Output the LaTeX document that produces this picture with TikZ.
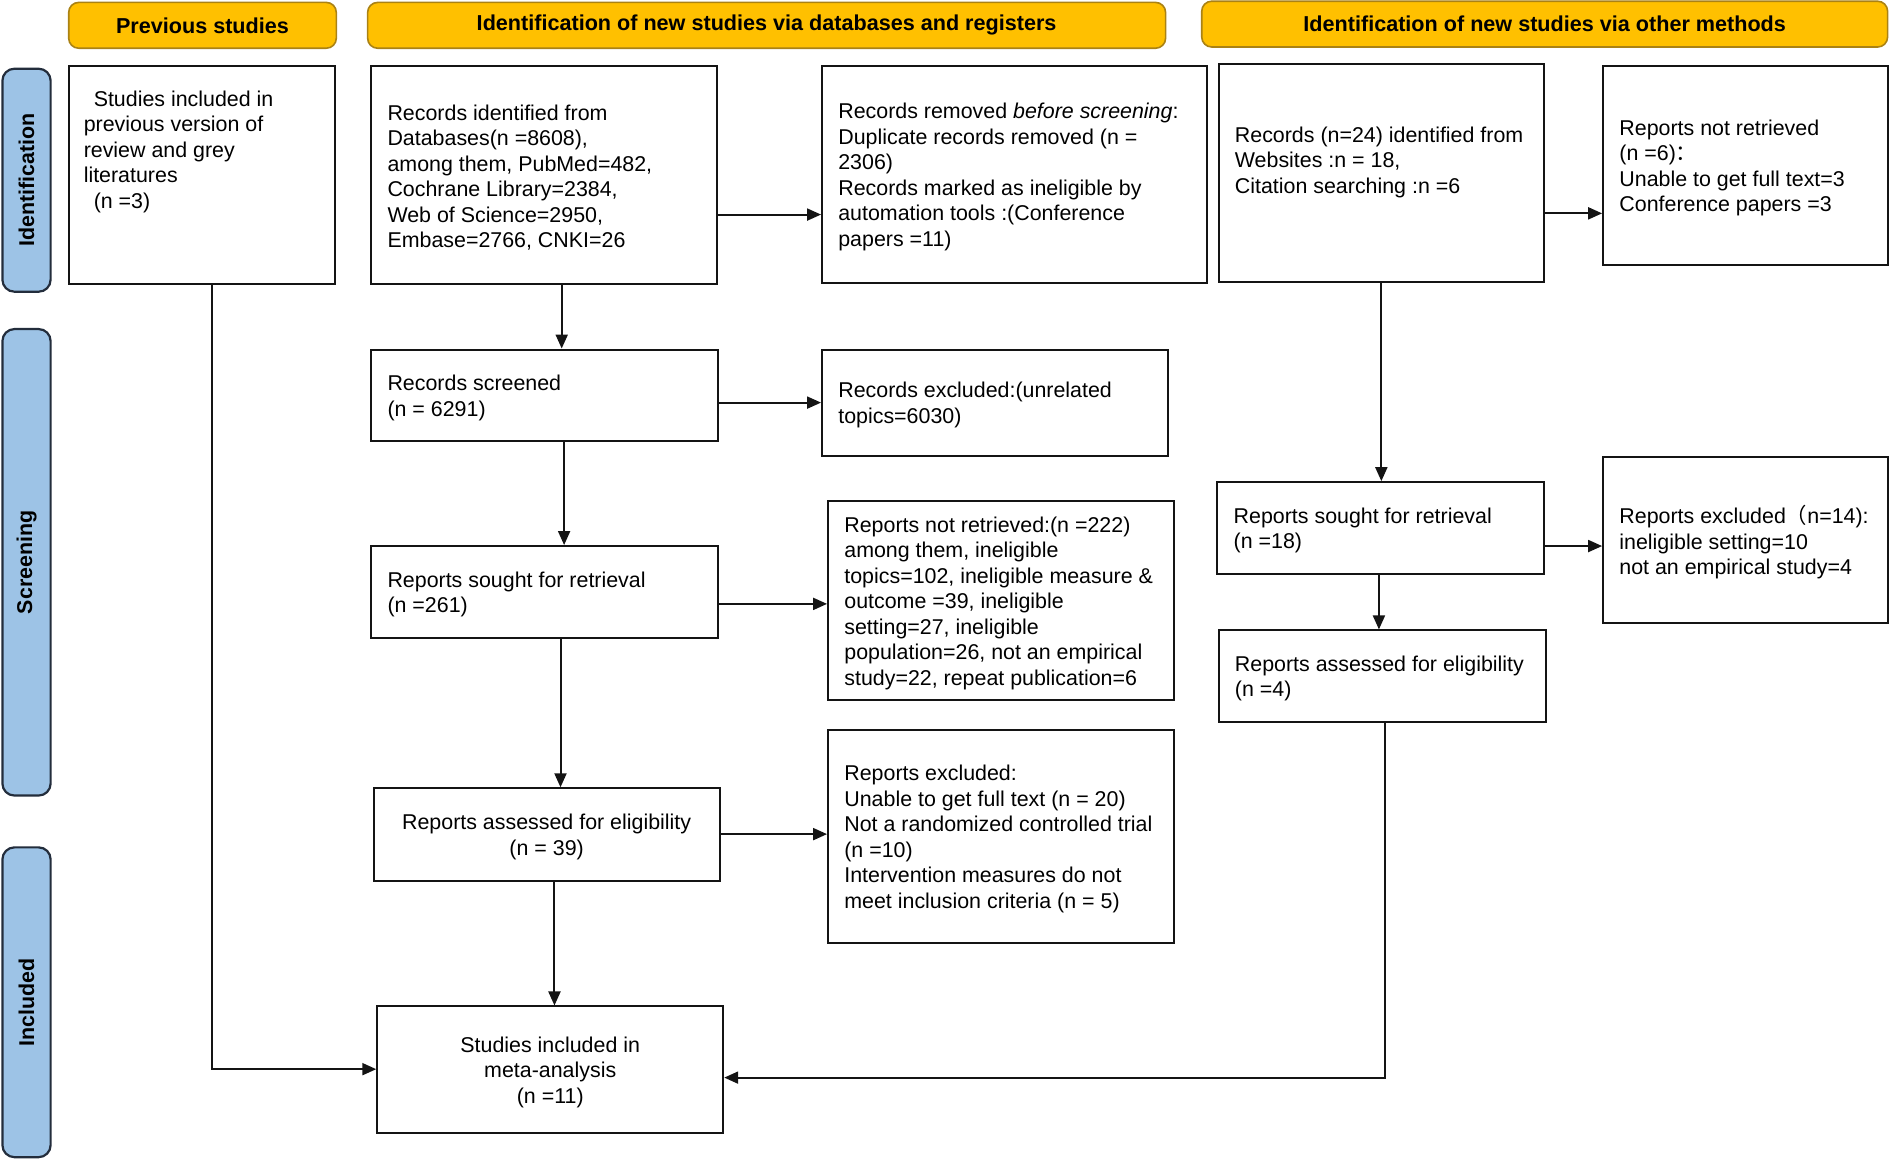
\documentclass[tikz,border=0pt]{standalone}
\usepackage{fontspec}
\setmainfont{Liberation Sans}
\newfontfamily\cjkf{Noto Sans CJK SC}
\usetikzlibrary{arrows.meta,calc}
\def\uu{0.6027pt}
\definecolor{hdrfill}{RGB}{255,192,0}
\definecolor{hdrdraw}{RGB}{170,130,20}
\definecolor{sidefill}{RGB}{157,195,230}
\definecolor{sidedraw}{RGB}{35,45,60}
\definecolor{boxdraw}{RGB}{20,20,20}
\tikzset{
  boxst/.style={draw=boxdraw, line width=1pt, rectangle, inner sep=0pt, fill=white},
  txt/.style={inner sep=0pt, align=left, font=\fontsize{10.7}{12.75}\selectfont},
  ctxt/.style={inner sep=0pt, align=center, font=\fontsize{10.7}{12.75}\selectfont},
  hdr/.style={draw=hdrdraw, line width=0.8pt, fill=hdrfill, rounded corners=5pt, inner sep=0pt, font=\bfseries\fontsize{10.8}{13}\selectfont},
  side/.style={draw=sidedraw, line width=1.1pt, fill=sidefill, rounded corners=6pt, inner sep=0pt, font=\bfseries\fontsize{10.7}{13}\selectfont},
  arr/.style={draw=boxdraw, line width=1pt, -{Triangle[length=7pt,width=6pt]}},
}
\newcommand\mkbox[5]{\node[boxst, minimum width=#4*\uu, minimum height=#5*\uu] (#1) at (#2,#3) {};}
\begin{document}
\begin{tikzpicture}[x=0.6027pt,y=-0.6027pt]
\useasboundingbox (0,0) rectangle (1568,962);
% headers
\node[hdr, minimum width=222*\uu, minimum height=38*\uu] (h1) at (168,21) {Previous studies};
\node[hdr, minimum width=662*\uu, minimum height=38*\uu] (h2) at (636,21) {Identification of new studies via databases and registers};
\node[hdr, minimum width=569*\uu, minimum height=38*\uu] (h3) at (1281.5,20) {Identification of new studies via other methods};
% side labels
\node[side, rotate=90, minimum width=185*\uu, minimum height=40*\uu] (s1) at (22,149.5) {Identification};
\node[side, rotate=90, minimum width=387*\uu, minimum height=40*\uu] (s2) at (22,466.5) {Screening};
\node[side, rotate=90, minimum width=257*\uu, minimum height=40*\uu] (s3) at (22,831.5) {Included};
% boxes
\mkbox{prev}{167.5}{145.5}{221}{181}
\mkbox{db}{451.5}{145.5}{287}{181}
\mkbox{removed}{841.5}{145}{319}{180}
\mkbox{other}{1146}{143.5}{270}{181}
\mkbox{notrettwo}{1448}{137.5}{236}{165}
\mkbox{screened}{452}{328}{288}{76}
\mkbox{exclone}{825.5}{334}{287}{88}
\mkbox{sought}{452}{491}{288}{76}
\mkbox{notret}{830.5}{498.5}{287}{165}
\mkbox{soughttwo}{1145.5}{438}{271}{76}
\mkbox{excltwo}{1448}{448}{236}{138}
\mkbox{assessedtwo}{1147}{561}{272}{76}
\mkbox{assessed}{453.5}{692.5}{287}{77}
\mkbox{exclthree}{830.5}{694}{287}{176}
\mkbox{included}{456.5}{887.5}{287}{105}
% texts
\node[txt, anchor=west] (tprev) at ([xshift=13*\uu, yshift=19.5*\uu]prev.west) {\hspace{5pt}Studies included in\\previous version of\\review and grey\\literatures\\\hspace{5pt}(n =3)};
\node[txt, anchor=west] (tdb) at ([xshift=14*\uu, yshift=-2*\uu]db.west) {Records identified from\\Databases(n =8608),\\among them, PubMed=482,\\Cochrane Library=2384,\\Web of Science=2950,\\Embase=2766, CNKI=26};
\node[txt, anchor=west] (tremoved) at ([xshift=14*\uu, yshift=-2*\uu]removed.west) {Records removed \textit{before screening}:\\Duplicate records removed (n =\\2306)\\Records marked as ineligible by\\automation tools :(Conference\\papers =11)};
\node[txt, anchor=west] (tother) at ([xshift=14*\uu, yshift=9*\uu]other.west) {Records (n=24) identified from\\Websites :n = 18,\\Citation searching :n =6};
\node[txt, anchor=west] (tnotrettwo) at ([xshift=14*\uu, yshift=-2*\uu]notrettwo.west) {Reports not retrieved\\(n =6){\cjkf ：}\\Unable to get full text=3\\Conference papers =3};
\node[txt, anchor=west] (tscreened) at ([xshift=14*\uu, yshift=-2*\uu]screened.west) {Records screened\\(n = 6291)};
\node[txt, anchor=west] (texclone) at ([xshift=14*\uu, yshift=-2*\uu]exclone.west) {Records excluded:(unrelated\\topics=6030)};
\node[txt, anchor=west] (tsought) at ([xshift=14*\uu, yshift=-2*\uu]sought.west) {Reports sought for retrieval\\(n =261)};
\node[txt, anchor=west] (tnotret) at ([xshift=14*\uu, yshift=-2*\uu]notret.west) {Reports not retrieved:(n =222)\\among them, ineligible\\topics=102, ineligible measure \&\\outcome =39, ineligible\\setting=27, ineligible\\population=26, not an empirical\\study=22, repeat publication=6};
\node[txt, anchor=west] (tsoughttwo) at ([xshift=14*\uu, yshift=-2*\uu]soughttwo.west) {Reports sought for retrieval\\(n =18)};
\node[txt, anchor=west] (texcltwo) at ([xshift=14*\uu, yshift=-2*\uu]excltwo.west) {Reports excluded{\cjkf （}n=14):\\ineligible setting=10\\not an empirical study=4};
\node[txt, anchor=west] (tassessedtwo) at ([xshift=14*\uu, yshift=-2*\uu]assessedtwo.west) {Reports assessed for eligibility\\(n =4)};
\node[ctxt] (tassessed) at ([yshift=-2*\uu]assessed.center) {Reports assessed for eligibility\\(n = 39)};
\node[txt, anchor=west] (texclthree) at ([xshift=14*\uu, yshift=-2*\uu]exclthree.west) {Reports excluded:\\Unable to get full text (n = 20)\\Not a randomized controlled trial\\(n =10)\\Intervention measures do not\\meet inclusion criteria (n = 5)};
\node[ctxt] (tincluded) at ([yshift=-2*\uu]included.center) {Studies included in\\meta-analysis\\(n =11)};
% helper coordinates
\coordinate (xa) at (466,0);
\coordinate (xb) at (468,0);
\coordinate (xc) at (465,0);
\coordinate (xd) at (460,0);
\coordinate (xe) at (1146,0);
\coordinate (xf) at (1144,0);
\coordinate (ya) at (0,178);
\coordinate (yb) at (0,334);
\coordinate (yc) at (0,501);
\coordinate (yd) at (0,692);
\coordinate (ye) at (0,177);
\coordinate (yf) at (0,453);
\coordinate (ka) at (176,887);
\coordinate (kb) at (1149,894);
% arrows
\draw[arr] (db.south -| xa) -- (screened.north -| xa);
\draw[arr] (db.east |- ya) -- (removed.west |- ya);
\draw[arr] (screened.east |- yb) -- (exclone.west |- yb);
\draw[arr] (screened.south -| xb) -- (sought.north -| xb);
\draw[arr] (sought.east |- yc) -- (notret.west |- yc);
\draw[arr] (sought.south -| xc) -- (assessed.north -| xc);
\draw[arr] (assessed.east |- yd) -- (exclthree.west |- yd);
\draw[arr] (assessed.south -| xd) -- (included.north -| xd);
\draw[arr] (prev.south -| ka) |- (included.west |- ka);
\draw[arr] (other.south -| xe) -- (soughttwo.north -| xe);
\draw[arr] (other.east |- ye) -- (notrettwo.west |- ye);
\draw[arr] (soughttwo.east |- yf) -- (excltwo.west |- yf);
\draw[arr] (soughttwo.south -| xf) -- (assessedtwo.north -| xf);
\draw[arr] (assessedtwo.south -| kb) |- (included.east |- kb);
\end{tikzpicture}
\end{document}
